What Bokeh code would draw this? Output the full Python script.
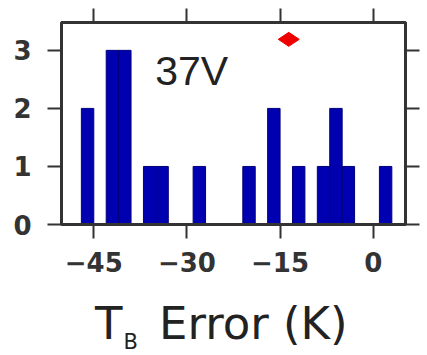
from bokeh.plotting import figure
from bokeh.models import Range1d, LinearAxis, FixedTicker, ColumnDataSource
from bokeh.layouts import column
from bokeh.core.properties import value
from bokeh.embed import file_html
from bokeh.resources import INLINE
import math

# Histogram data (bin centers in K, counts)
bin_centers = [-46, -42, -40, -36, -34, -28, -20, -16, -12, -8, -6, -4, 2]
counts = [2, 3, 3, 1, 1, 1, 1, 2, 1, 1, 2, 1, 1]
bin_width = 2

# Marker (red diamond)
marker_x = [-13.6]
marker_y = [3.19]

x_ticks = [-45, -30, -15, 0]
x_tick_labels = ["\u221245", "\u221230", "\u221215", "0"]
y_ticks = [0, 1, 2, 3]
y_tick_labels = ["0", "1", "2", "3"]

channel_label = "37V"
xlabel_parts = ["T", "B", "Error (K)"]

W = 427
H1 = 290
H2 = 65

x_range = Range1d(-50.2, 5.2)

p = figure(width=W, height=H1, output_backend="svg", toolbar_location=None,
           x_range=x_range, y_range=Range1d(0, 3.48),
           min_border_left=61, min_border_right=22, min_border_top=22,
           min_border_bottom=66, x_axis_location=None, y_axis_location=None)
p.background_fill_color = "white"
p.border_fill_color = "white"
p.xgrid.visible = False
p.ygrid.visible = False
p.outline_line_color = "#333333"
p.outline_line_width = 3

src = ColumnDataSource(dict(x=bin_centers, top=counts))
p.vbar(x="x", top="top", width=bin_width, bottom=0, source=src,
       fill_color="#0000b0", line_color="#00007a", line_width=1)

p.scatter(x=marker_x, y=marker_y, marker="diamond", size=21, angle=math.pi / 2,
          fill_color="#ee0000", line_color="#ee0000")

def style_axis(ax, ticks, labels, show_labels):
    ax.ticker = FixedTicker(ticks=ticks)
    ax.axis_line_color = "#333333"
    ax.axis_line_width = 3
    ax.major_tick_line_color = "#333333"
    ax.major_tick_line_width = 2
    ax.major_tick_out = 14
    ax.major_tick_in = 0
    ax.minor_tick_line_color = None
    if show_labels:
        ax.major_label_overrides = {t: l for t, l in zip(ticks, labels)}
        ax.major_label_text_font = "DejaVu Sans"
        ax.major_label_text_font_style = "bold"
        ax.major_label_text_font_size = "26px"
        ax.major_label_text_color = "#333333"
    else:
        ax.major_label_overrides = {t: "" for t in ticks}
        ax.major_label_text_color = None
        ax.major_label_standoff = 0

xb = LinearAxis()
style_axis(xb, x_ticks, x_tick_labels, True)
xb.major_label_standoff = 13
p.add_layout(xb, "below")

xt = LinearAxis()
style_axis(xt, x_ticks, x_tick_labels, False)
p.add_layout(xt, "above")

yl = LinearAxis()
style_axis(yl, y_ticks, y_tick_labels, True)
yl.major_label_standoff = 16
p.add_layout(yl, "left")

yr = LinearAxis()
style_axis(yr, y_ticks, y_tick_labels, False)
p.add_layout(yr, "right")

p.text(x=[-35.1], y=[2.64], text=[channel_label], text_font=value("Liberation Sans"),
       text_font_size=value("41px"), text_color="#222222", text_baseline="alphabetic")

# x-axis title drawn in a strip below, sharing the x scale of the plot
p2 = figure(width=W, height=H2, output_backend="svg", toolbar_location=None,
            x_range=x_range, y_range=Range1d(0, H2),
            min_border_left=61, min_border_right=22, min_border_top=0, min_border_bottom=0,
            x_axis_location=None, y_axis_location=None)
p2.outline_line_color = None
p2.xgrid.visible = False
p2.ygrid.visible = False
p2.text(x=[-44.8], y=[32], text=[xlabel_parts[0]], text_font=value("DejaVu Sans"),
        text_font_size=value("45px"), text_color="#222222", text_baseline="alphabetic")
p2.text(x=[-40.2], y=[14], text=[xlabel_parts[1]], text_font=value("DejaVu Sans"),
        text_font_size=value("21px"), text_color="#222222", text_baseline="alphabetic")
p2.text(x=[-34.5], y=[32], text=[xlabel_parts[2]], text_font=value("DejaVu Sans"),
        text_font_size=value("45px"), text_color="#222222", text_baseline="alphabetic")

layout = column(p, p2, spacing=0)
open("out.html", "w").write(file_html(layout, INLINE))
